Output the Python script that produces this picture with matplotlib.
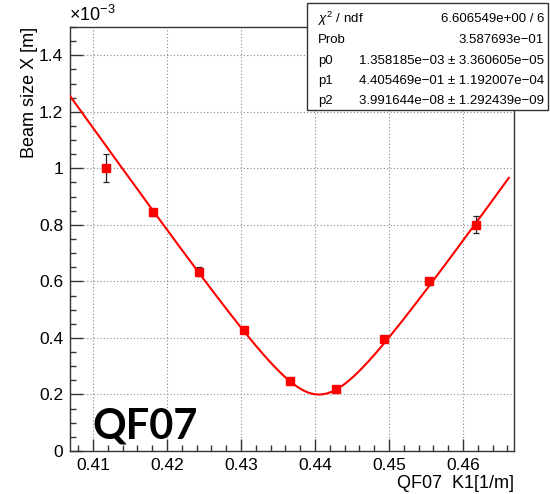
import numpy as np
import matplotlib.pyplot as plt
from matplotlib.patches import Rectangle
from matplotlib.ticker import MultipleLocator

plt.rcParams['font.family'] = ['Liberation Sans', 'DejaVu Sans']
plt.rcParams['mathtext.fontset'] = 'custom'
plt.rcParams['mathtext.rm'] = 'Liberation Sans'
plt.rcParams['mathtext.it'] = 'Liberation Sans:italic'

# Dados medidos (tamanho do feixe em unidades de 1e-3 m)
k1 = [0.4118, 0.4181, 0.4243, 0.4304, 0.4366, 0.4428, 0.4493, 0.4554, 0.4618]
beam = [1.000, 0.845, 0.635, 0.427, 0.247, 0.218, 0.395, 0.601, 0.800]
beam_err = [0.050, 0.012, 0.015, 0.008, 0.007, 0.007, 0.010, 0.012, 0.030]

# Parametros do ajuste (caixa de estatistica)
p0 = 1.358185e-03
p1 = 4.405469e-01
p2 = 3.991644e-08
stats_labels = [r"$\chi^2$ / ndf", "Prob", "p0", "p1", "p2"]
stats_values = ["6.606549e+00 / 6", "3.587693e\u221201",
                "1.358185e\u221203 \u00b1 3.360605e\u221205",
                "4.405469e\u221201 \u00b1 1.192007e\u221204",
                "3.991644e\u221208 \u00b1 1.292439e\u221209"]

W, H = 550, 494
fig = plt.figure(figsize=(5.5, 4.94), dpi=100)
ax = fig.add_axes([70 / W, 1 - 451 / H, 444 / W, 424 / H])

# curva do ajuste: sigma = sqrt(p2 + p0*(k - p1)^2)
kf = np.linspace(0.4069, 0.4662, 400)
fit = np.sqrt(p2 + p0 * (kf - p1) ** 2) * 1e3
ax.plot(kf, fit, color='#ff0000', lw=1.5, zorder=3)

ax.errorbar(k1, beam, yerr=beam_err, fmt='s', color='#ff0000', ms=5.5,
            ecolor='#222222', elinewidth=0.9, capsize=2, capthick=0.9, zorder=4)

ax.set_xlim(0.4069, 0.4669)
ax.set_ylim(0, 1.5)
ax.xaxis.set_major_locator(MultipleLocator(0.01))
ax.xaxis.set_minor_locator(MultipleLocator(0.002))
ax.yaxis.set_major_locator(MultipleLocator(0.2))
ax.yaxis.set_minor_locator(MultipleLocator(0.05))
ax.set_xticks([0.41, 0.42, 0.43, 0.44, 0.45, 0.46])
ax.set_xticklabels(["0.41", "0.42", "0.43", "0.44", "0.45", "0.46"])
ax.set_yticks([0, 0.2, 0.4, 0.6, 0.8, 1.0, 1.2, 1.4])
ax.set_yticklabels(["0", "0.2", "0.4", "0.6", "0.8", "1", "1.2", "1.4"])
ax.tick_params(which='both', direction='in', top=False, right=False,
               labelsize=12.5, width=1.0, color='#333333')
ax.tick_params(which='major', length=9, pad=5)
ax.tick_params(which='minor', length=4.5)
ax.grid(True, which='major', ls=(0, (1, 2)), color='#888888', lw=0.8)
for s in ax.spines.values():
    s.set_linewidth(1.0)
    s.set_color('#333333')

fig.text(514 / W, 1 - 483 / H, "QF07  K1[1/m]", ha='right', va='center', fontsize=13)
fig.text(30 / W, 1 - 27 / H, "Beam size X [m]", rotation=90, ha='center', va='top',
         fontsize=13)
fig.text(69 / W, 1 - 15 / H, r"$\times10^{-3}$", ha='left', va='center', fontsize=13)

ax.text(0.417, 0.088, "QF07", fontsize=30, fontweight='bold',
        family=['Lato', 'DejaVu Sans'], ha='center', va='center', zorder=5)

# caixa de estatistica
fig.patches.append(Rectangle((307 / W, 1 - 110 / H), 241 / W, 107 / H,
                             transform=fig.transFigure, facecolor='white',
                             edgecolor='#333333', lw=1.0, zorder=10))
rows_y = [19, 40, 61, 81, 101]
for lab, val, yy in zip(stats_labels, stats_values, rows_y):
    fig.text(318 / W, 1 - yy / H, lab, ha='left', va='center', fontsize=9.5, zorder=11)
    fig.text(544 / W, 1 - yy / H, val, ha='right', va='center', fontsize=9.5, zorder=11)

fig.savefig("out.png", dpi=100)
